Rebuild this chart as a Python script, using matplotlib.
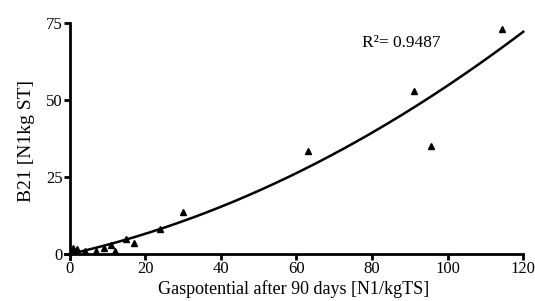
import numpy as np
import matplotlib
matplotlib.use("Agg")
from matplotlib import pyplot as plt

plt.rcParams['font.family'] = ['Liberation Serif', 'DejaVu Serif']

# gas potential after 90 days vs B21
gas = [1, 2, 4, 7, 9, 11, 12, 15, 17, 24, 30, 63, 91, 95.5, 114.5]
b21 = [2, 1.5, 1, 1, 2, 3, 1, 5, 3.5, 8, 13.5, 33.5, 53, 35, 73]
xticks = [0, 20, 40, 60, 80, 100, 120]
yticks = [0, 25, 50, 75]

fig = plt.figure(figsize=(5.35, 3.01), dpi=100)
ax = fig.add_axes([0.121, 0.14, 0.857, 0.784])

ax.plot(gas, b21, '^', color='black', markersize=5, clip_on=False, zorder=3)

# second order trend line
coef = np.polyfit(gas, b21, 2)
xs = np.linspace(0, 120, 200)
ax.plot(xs, np.polyval(coef, xs), color='black', lw=1.8, clip_on=False)

ax.text(77.3, 68.5, 'R\u00b2= 0.9487', fontsize=12.5, va='center')

ax.set_xlim(-1.3, 120)
ax.set_ylim(-1.6, 75)
ax.spines['left'].set_position(('data', 0))
ax.spines['bottom'].set_position(('data', 0))
ax.set_xticks(xticks)
ax.set_yticks(yticks)
for s in ['top', 'right']:
    ax.spines[s].set_visible(False)
for s in ['left', 'bottom']:
    ax.spines[s].set_linewidth(2)
ax.tick_params(width=2, length=4, labelsize=12, pad=1)
ax.set_xlabel('Gaspotential after 90 days [N1/kgTS]', fontsize=13, labelpad=2)
ax.set_ylabel('B21 [N1kg ST]', fontsize=14, labelpad=8)

fig.savefig('out.png', dpi=100)
